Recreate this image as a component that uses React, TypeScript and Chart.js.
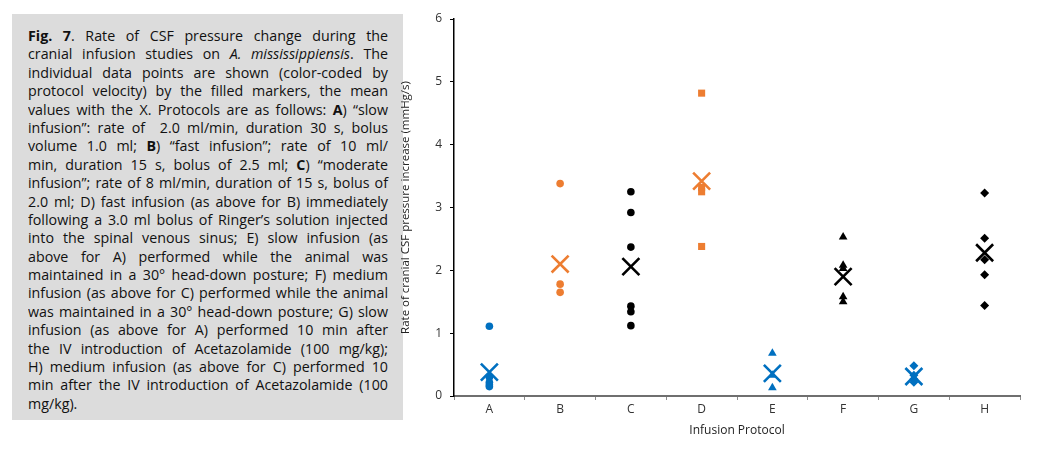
import React, { useEffect, useRef } from "react";
import { Chart, registerables } from "chart.js";

Chart.register(...registerables);

const categories = ["A", "B", "C", "D", "E", "F", "G", "H"];
const aValues = [1.11, 0.3, 0.22, 0.18, 0.15];
const bValues = [3.38, 1.78, 1.65];
const cValues = [3.25, 2.92, 2.37, 1.43, 1.34, 1.12];
const dValues = [4.82, 3.32, 3.25, 2.38];
const eValues = [0.68, 0.33, 0.13];
const fValues = [2.53, 2.08, 2.03, 1.58, 1.5];
const gValues = [0.48, 0.33, 0.27, 0.22];
const hValues = [3.23, 2.51, 2.17, 1.93, 1.44];
const meanValues = [0.38, 2.1, 2.06, 3.42, 0.36, 1.9, 0.31, 2.28];
const yTickValues = [0, 1, 2, 3, 4, 5, 6];

const BLUE = "#0070C0";
const ORANGE = "#ED7D31";
const BLACK = "#000000";
const meanColors = [BLUE, ORANGE, BLACK, ORANGE, BLUE, BLACK, BLUE, BLACK];

const seriesDefs = [
  { cat: "A", values: aValues, color: BLUE, style: "circle", r: 3.8 },
  { cat: "B", values: bValues, color: ORANGE, style: "circle", r: 3.8 },
  { cat: "C", values: cValues, color: BLACK, style: "circle", r: 3.8 },
  { cat: "D", values: dValues, color: ORANGE, style: "rect", r: 5 },
  { cat: "E", values: eValues, color: BLUE, style: "triangle", r: 5 },
  { cat: "F", values: fValues, color: BLACK, style: "triangle", r: 5 },
  { cat: "G", values: gValues, color: BLUE, style: "rectRot", r: 4.5 },
  { cat: "H", values: hValues, color: BLACK, style: "rectRot", r: 4.5 },
];

const B = (s: string) => <b>{s}</b>;

const captionLines: React.ReactNode[] = [
  <><b>Fig. 7</b>. Rate of CSF pressure change during the</>,
  <>cranial infusion studies on <i>A. mississippiensis</i>. The</>,
  <>individual data points are shown (color-coded by</>,
  <>protocol velocity) by the filled markers, the mean</>,
  <>values with the X. Protocols are as follows: {B("A")}) “slow</>,
  <>infusion”: rate of&nbsp; 2.0 ml/min, duration 30 s, bolus</>,
  <>volume 1.0 ml; {B("B")}) “fast infusion”; rate of 10 ml/</>,
  <>min, duration 15 s, bolus of 2.5 ml; {B("C")}) “moderate</>,
  <>infusion”; rate of 8 ml/min, duration of 15 s, bolus of</>,
  <>2.0 ml; D) fast infusion (as above for B) immediately</>,
  <>following a 3.0 ml bolus of Ringer’s solution injected</>,
  <>into the spinal venous sinus; E) slow infusion (as</>,
  <>above for A) performed while the animal was</>,
  <>maintained in a 30° head-down posture; F) medium</>,
  <>infusion (as above for C) performed while the animal</>,
  <>was maintained in a 30° head-down posture; G) slow</>,
  <>infusion (as above for A) performed 10 min after</>,
  <>the IV introduction of Acetazolamide (100 mg/kg);</>,
  <>H) medium infusion (as above for C) performed 10</>,
  <>min after the IV introduction of Acetazolamide (100</>,
  <>mg/kg).</>,
];

const SCALE_X = 0.95;
const TEXT_W = 360;

export default function App() {
  const canvasRef = useRef<HTMLCanvasElement | null>(null);

  useEffect(() => {
    if (!canvasRef.current) return;
    const datasets: any[] = seriesDefs.map((s) => ({
      label: s.cat,
      data: s.values.map((v) => ({ x: s.cat, y: v })),
      pointStyle: s.style,
      pointRadius: s.r,
      backgroundColor: s.color,
      borderColor: s.color,
      pointBorderWidth: 0,
      showLine: false,
      order: 2,
    }));
    datasets.push({
      label: "Mean",
      data: meanValues.map((v, i) => ({ x: categories[i], y: v })),
      pointStyle: "crossRot",
      pointRadius: 12,
      pointBorderWidth: 2.6,
      borderColor: meanColors,
      backgroundColor: meanColors,
      showLine: false,
      order: 1,
    });

    const tickFont = { family: "'Open Sans', sans-serif", size: 12 };
    const chart = new Chart(canvasRef.current, {
      type: "scatter",
      data: { labels: categories, datasets },
      options: {
        animation: false,
        responsive: true,
        maintainAspectRatio: false,
        layout: { padding: { top: 19, right: 41, left: 0, bottom: 0 } },
        plugins: { legend: { display: false }, tooltip: { enabled: false } },
        scales: {
          x: {
            type: "category",
            labels: categories,
            offset: true,
            grid: {
              display: true,
              drawOnChartArea: false,
              drawTicks: true,
              tickLength: 4,
              offset: true,
              color: "#8c8c8c",
              lineWidth: 1,
            },
            border: { display: true, color: "#6f6f6f", width: 2 },
            ticks: { color: "#333", font: tickFont, padding: 2 },
            title: {
              display: true,
              text: "Infusion Protocol",
              color: "#222",
              font: { family: "'Open Sans', sans-serif", size: 12 },
              padding: { top: 0, bottom: 24 },
            },
            afterFit: (scale: any) => {
              scale.height = 66;
            },
          },
          y: {
            type: "linear",
            min: 0,
            max: 6,
            ticks: {
              stepSize: 1,
              color: "#333",
              font: tickFont,
              padding: 8,
              callback: (v: any) => (yTickValues.includes(Number(v)) ? String(v) : ""),
            },
            grid: {
              display: true,
              drawOnChartArea: false,
              drawTicks: true,
              tickLength: 4,
              color: "#000",
            },
            border: { display: true, color: "#000", width: 1.5 },
            title: {
              display: true,
              text: "Rate of cranial CSF pressure increase (mmHg/s)",
              color: "#222",
              font: { family: "'Open Sans', sans-serif", size: 11.5 },
              padding: { top: 3, bottom: 0 },
            },
            afterFit: (scale: any) => {
              scale.width = 58;
            },
          },
        },
      } as any,
    });
    return () => chart.destroy();
  }, []);

  return (
    <div style={{ position: "fixed", left: 0, top: 0, width: 1061, height: 462, background: "#fff" }}>
      <div
        style={{
          position: "absolute",
          left: 12,
          top: 14,
          width: 391,
          height: 406,
          background: "#dcdcdc",
        }}
      />
      <div
        style={{
          position: "absolute",
          left: 28,
          top: 26,
          width: TEXT_W / SCALE_X,
          transform: `scaleX(${SCALE_X})`,
          transformOrigin: "left top",
          fontFamily: "'Open Sans', sans-serif",
          fontSize: 15,
          lineHeight: "18.4px",
          color: "#111",
        }}
      >
        {captionLines.map((ln, i) => (
          <div
            key={i}
            style={{
              whiteSpace: "nowrap",
              textAlign: "justify",
              textAlignLast: i === captionLines.length - 1 ? "left" : "justify",
              height: 18.4,
            }}
          >
            {ln}
          </div>
        ))}
      </div>
      <div style={{ position: "absolute", left: 396, top: 0, width: 665, height: 462 }}>
        <canvas ref={canvasRef} />
      </div>
    </div>
  );
}
